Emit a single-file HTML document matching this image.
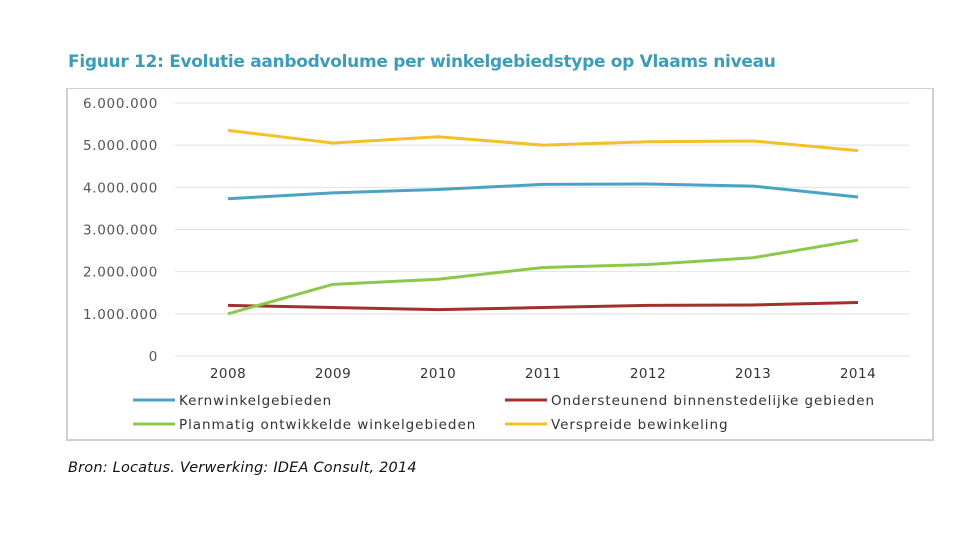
<!DOCTYPE html>
<html><head><meta charset="utf-8"><style>
body{margin:0;width:960px;height:540px;background:#fff;font-family:"DejaVu Sans",sans-serif;overflow:hidden;position:relative}
#title{position:absolute;left:68px;top:52px;font-size:17px;font-weight:bold;color:#3d9db8;letter-spacing:-0.3px;white-space:nowrap}
#box{position:absolute;left:66px;top:88px;width:868px;height:353px;border:2px solid #d0d0d0;border-top-width:1px;box-sizing:border-box}
#src{position:absolute;left:68px;top:460px;font-size:14.5px;font-style:italic;color:#111;white-space:nowrap;letter-spacing:0.2px}
svg{position:absolute;left:0;top:0}
</style></head><body>
<div id="title">Figuur 12: Evolutie aanbodvolume per winkelgebiedstype op Vlaams niveau</div>
<div id="box"></div>
<svg id="chart" width="960" height="540" font-family="DejaVu Sans, sans-serif"></svg>
<div id="src">Bron: Locatus. Verwerking: IDEA Consult, 2014</div>
<script>
const years=["2008","2009","2010","2011","2012","2013","2014"];
const yTicks=[0,1000000,2000000,3000000,4000000,5000000,6000000];
const yTickLabels=["0","1.000.000","2.000.000","3.000.000","4.000.000","5.000.000","6.000.000"];
const kern=[3730000,3870000,3950000,4070000,4080000,4030000,3770000];
const onder=[1200000,1150000,1100000,1150000,1200000,1210000,1270000];
const planm=[1000000,1700000,1820000,2100000,2170000,2330000,2750000];
const versp=[5350000,5050000,5200000,5000000,5080000,5100000,4870000];
const names=["Kernwinkelgebieden","Ondersteunend binnenstedelijke gebieden","Planmatig ontwikkelde winkelgebieden","Verspreide bewinkeling"];
const colors=["#4aa3c4","#a0322a","#8cc84b","#f2c029"];
const series=[kern,onder,planm,versp];
const NS="http://www.w3.org/2000/svg";
const svg=document.getElementById('chart');
const x=i=>228+i*105;
const y=v=>356-v/6000000*253;
function mk(t,a){const e=document.createElementNS(NS,t);for(const k in a)e.setAttribute(k,a[k]);svg.appendChild(e);return e;}
yTicks.forEach((t,i)=>{
 const g=mk('line',{x1:175,x2:910,y1:y(t),y2:y(t),stroke:'#e2e2e2','stroke-width':1});
 
 
 const l=mk('text',{x:158,y:y(t)+5,'text-anchor':'end','font-size':13.5,fill:'#555','letter-spacing':0.7});
 l.textContent=yTickLabels[i];
 
 
});
years.forEach((yr,i)=>{
 const l=mk('text',{x:x(i),y:378,'text-anchor':'middle','font-size':13.5,fill:'#333','letter-spacing':0.5});
 l.textContent=yr;
 
 
});
series.forEach((s,k)=>{
 const p=mk('polyline',{points:s.map((v,i)=>x(i)+','+y(v)).join(' '),fill:'none',stroke:colors[k],'stroke-width':3,'stroke-linejoin':'round'});
 
 
});
const lp=[[133,400],[505,400],[133,424],[505,424]];
names.forEach((n,k)=>{
 const l=mk('line',{x1:lp[k][0],x2:lp[k][0]+42,y1:lp[k][1],y2:lp[k][1],stroke:colors[k],'stroke-width':3});
 
 
 const t=mk('text',{x:lp[k][0]+46,y:lp[k][1]+5,'font-size':13.5,fill:'#333','letter-spacing':0.95});
 t.textContent=n;
 
 
});
</script>
</body></html>
